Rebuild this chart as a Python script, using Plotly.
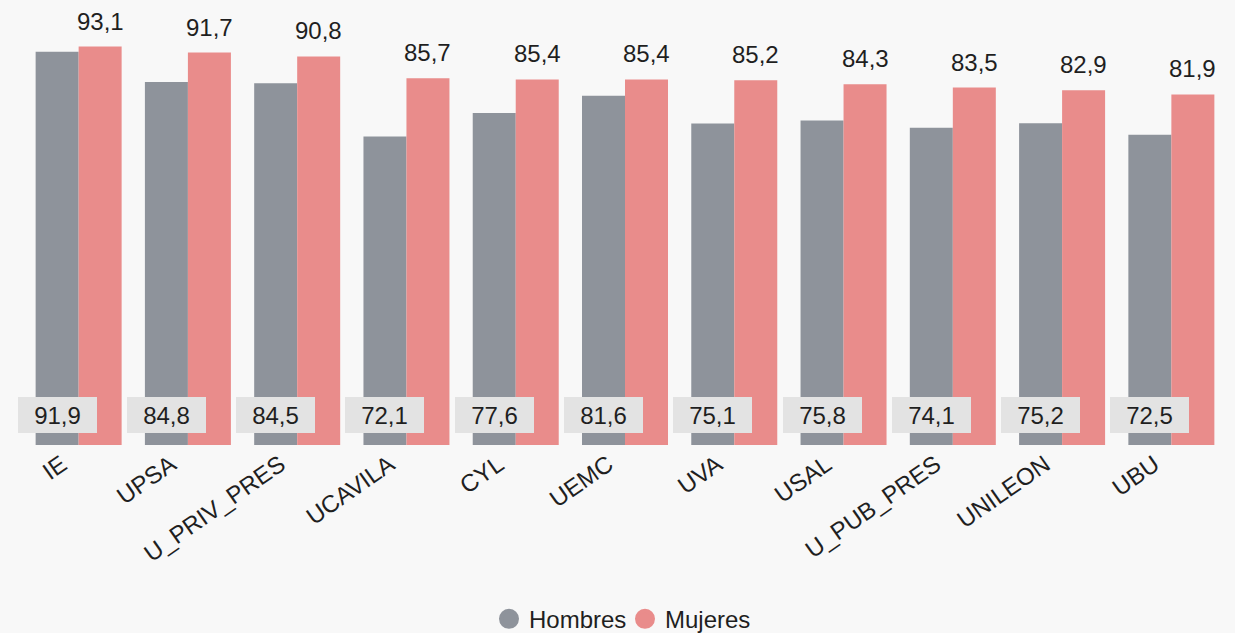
import plotly.graph_objects as go

categories = ["IE", "UPSA", "U_PRIV_PRES", "UCAVILA", "CYL", "UEMC", "UVA", "USAL", "U_PUB_PRES", "UNILEON", "UBU"]
hombres = [91.9, 84.8, 84.5, 72.1, 77.6, 81.6, 75.1, 75.8, 74.1, 75.2, 72.5]
mujeres = [93.1, 91.7, 90.8, 85.7, 85.4, 85.4, 85.2, 84.3, 83.5, 82.9, 81.9]

C_H = "#8e939b"
C_M = "#e98c8b"
BG = "#f8f8f8"
TXT = "#1f1f1f"
FONT = "Liberation Sans, Arial, sans-serif"

def fmt(v):
    return f"{v:.1f}".replace(".", ",")

fig = go.Figure()
fig.add_trace(go.Bar(x=categories, y=hombres, name="Hombres", marker_color=C_H,
                     marker_line_width=0, showlegend=False, hoverinfo="skip"))
fig.add_trace(go.Bar(x=categories, y=mujeres, name="Mujeres", marker_color=C_M,
                     marker_line_width=0, showlegend=False, hoverinfo="skip"))
# legend entries with circle markers
fig.add_trace(go.Scatter(x=[None], y=[None], mode="markers", name="Hombres",
                         marker=dict(color=C_H, size=16, symbol="circle",
                                     line=dict(color=C_H, width=4))))
fig.add_trace(go.Scatter(x=[None], y=[None], mode="markers", name="Mujeres",
                         marker=dict(color=C_M, size=16, symbol="circle",
                                     line=dict(color=C_M, width=4))))

W, H = 1235, 633
ml, mr, mt, mb = 24, 9, 20, 188
plot_w = W - ml - mr
cat_w = plot_w / len(categories)
bargap = 0.213
bar_w = cat_w * (1 - bargap) / 2

annotations = []
for c, h, m in zip(categories, hombres, mujeres):
    annotations.append(dict(
        x=c, y=0, xref="x", yref="y", text=fmt(h), showarrow=False,
        xanchor="center", yanchor="bottom", xshift=-bar_w / 2, yshift=12,
        bgcolor="#e3e3e3", borderwidth=0, borderpad=0, width=79, height=36,
        align="center", valign="middle",
        font=dict(family=FONT, size=24, color=TXT)))
    annotations.append(dict(
        x=c, y=m, xref="x", yref="y", text=fmt(m), showarrow=False,
        xanchor="center", yanchor="bottom", xshift=bar_w / 2, yshift=10,
        font=dict(family=FONT, size=24, color=TXT)))

fig.update_layout(
    width=W, height=H,
    margin=dict(l=ml, r=mr, t=mt, b=mb, autoexpand=False),
    paper_bgcolor=BG, plot_bgcolor=BG,
    barmode="group", bargap=bargap, bargroupgap=0,
    font=dict(family=FONT, color=TXT),
    xaxis=dict(showgrid=False, showline=False, zeroline=False, ticks="",
               tickangle=-35, tickfont=dict(size=24, color=TXT, family=FONT),
               ticklabelshift=-17, range=[-0.5, len(categories) - 0.5],
               automargin=False, fixedrange=True),
    yaxis=dict(range=[0, 99.3], visible=False, showgrid=False, zeroline=False,
               automargin=False, fixedrange=True),
    legend=dict(orientation="h", x=0.5, xanchor="center", y=-0.41, yanchor="middle",
                font=dict(size=24, color=TXT, family=FONT), itemsizing="trace",
                bgcolor="rgba(0,0,0,0)", itemwidth=30, entrywidth=91),
    annotations=annotations,
)

fig.write_html("out.html", config={"displayModeBar": False},
               post_script="document.body.style.margin='0';document.body.style.overflow='hidden';")
